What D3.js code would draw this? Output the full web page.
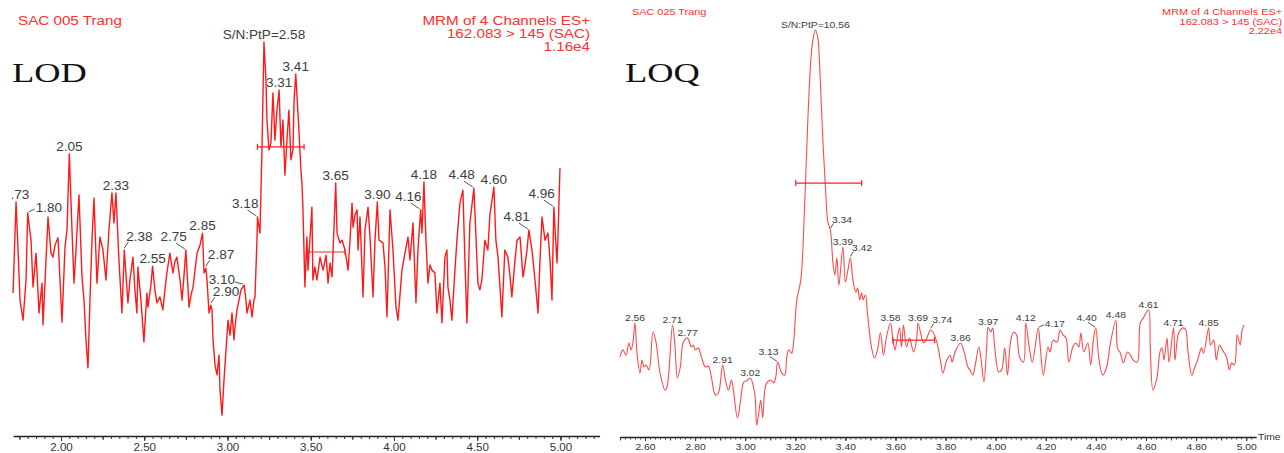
<!DOCTYPE html>
<html>
<head>
<meta charset="utf-8">
<script src="https://cdn.jsdelivr.net/npm/d3@7"></script>
<style>
  html, body { margin: 0; padding: 0; background: #fff; }
  svg { display: block; }
</style>
</head>
<body>
<div class="chart"></div>
<script>
// LOD chromatogram, [time (min), intensity (% of 1.16e4)]
const lodTrace = [
  [1.712, 36.3], [1.73, 59.4], [1.742, 47.2], [1.754, 34.5], [1.772, 29.4], [1.790, 39.6],
  [1.80, 56.6], [1.820, 49.7], [1.832, 37.8], [1.850, 46.4], [1.868, 31.2], [1.886, 38.8],
  [1.892, 28.2], [1.910, 44.7], [1.922, 55.6], [1.940, 46.4], [1.952, 45.4], [1.964, 48.5],
  [1.982, 50.3], [1.994, 39.6], [2.006, 28.9], [2.024, 48.0], [2.036, 52.3], [2.05, 71.6],
  [2.066, 52.3], [2.078, 38.8], [2.090, 47.2], [2.108, 61.2], [2.126, 40.4], [2.138, 34.5],
  [2.150, 24.4], [2.162, 17.3], [2.174, 34.5], [2.186, 49.7], [2.198, 60.4], [2.216, 38.8],
  [2.234, 50.5], [2.252, 47.2], [2.270, 39.6], [2.288, 52.3], [2.306, 61.7], [2.318, 54.1],
  [2.33, 61.7], [2.348, 44.7], [2.366, 31.2], [2.38, 47.2], [2.402, 33.8], [2.414, 39.6],
  [2.432, 45.4], [2.444, 37.1], [2.456, 31.2], [2.462, 42.9], [2.480, 34.5], [2.498, 23.9],
  [2.516, 36.3], [2.522, 32.7], [2.540, 38.3], [2.55, 43.1], [2.564, 37.1], [2.576, 33.8],
  [2.594, 35.3], [2.612, 32.0], [2.624, 37.1], [2.636, 41.4], [2.654, 46.4], [2.672, 41.4],
  [2.684, 44.2], [2.696, 45.4], [2.715, 39.6], [2.727, 34.5], [2.739, 40.9], [2.75, 47.2],
  [2.769, 32.7], [2.781, 35.8], [2.793, 37.8], [2.805, 42.1], [2.817, 46.4], [2.835, 48.5],
  [2.85, 51.5], [2.859, 41.4], [2.87, 42.6], [2.877, 39.6], [2.889, 31.2], [2.90, 33.2],
  [2.907, 32.0], [2.913, 24.4], [2.925, 18.0], [2.937, 15.5], [2.949, 20.6], [2.955, 11.7],
  [2.967, 5.3], [2.979, 14.2], [2.991, 21.8], [3.003, 29.4], [3.015, 25.6], [3.027, 31.2],
  [3.039, 24.4], [3.045, 27.7], [3.057, 32.0], [3.069, 34.5], [3.081, 37.1], [3.10, 38.3],
  [3.111, 34.5], [3.117, 31.2], [3.135, 34.5], [3.147, 30.2], [3.159, 34.5], [3.165, 35.3],
  [3.177, 49.7], [3.18, 55.6], [3.195, 51.5], [3.207, 72.6], [3.219, 100], [3.231, 90.4],
  [3.237, 80.2], [3.249, 72.6], [3.261, 74.4], [3.273, 87.1], [3.285, 75.1], [3.297, 82.7],
  [3.31, 87.8], [3.321, 73.4], [3.333, 80.2], [3.345, 66.2], [3.357, 75.1], [3.369, 82.7],
  [3.381, 70.1], [3.393, 72.6], [3.400, 85.3], [3.41, 91.9], [3.429, 77.7], [3.441, 67.5],
  [3.447, 64.2], [3.453, 58.1], [3.465, 37.8], [3.477, 50.5], [3.483, 42.1], [3.495, 49.7],
  [3.507, 58.1], [3.513, 39.6], [3.525, 42.9], [3.537, 39.6], [3.556, 45.4], [3.574, 42.1],
  [3.592, 45.9], [3.604, 38.8], [3.616, 43.9], [3.628, 40.4], [3.65, 64.2], [3.658, 51.5],
  [3.676, 49.0], [3.688, 49.7], [3.706, 47.2], [3.724, 42.1], [3.736, 49.7], [3.748, 59.1],
  [3.754, 53.0], [3.766, 56.1], [3.778, 57.4], [3.784, 47.2], [3.796, 55.6], [3.814, 35.3],
  [3.826, 52.3], [3.844, 58.1], [3.856, 50.5], [3.874, 35.3], [3.886, 49.7], [3.90, 59.4],
  [3.910, 49.7], [3.934, 49.0], [3.946, 42.9], [3.958, 30.2], [3.976, 57.4], [3.994, 47.2],
  [4.012, 32.7], [4.024, 29.4], [4.048, 42.1], [4.066, 46.4], [4.084, 50.5], [4.096, 44.7],
  [4.114, 54.1], [4.132, 33.8], [4.144, 47.2], [4.16, 57.4], [4.168, 51.5], [4.18, 64.5],
  [4.192, 49.7], [4.204, 38.8], [4.216, 43.4], [4.228, 42.1], [4.246, 41.4], [4.258, 31.2],
  [4.276, 38.8], [4.288, 28.7], [4.306, 45.4], [4.318, 47.2], [4.324, 37.8], [4.336, 34.5],
  [4.348, 29.4], [4.366, 42.1], [4.378, 49.7], [4.396, 59.1], [4.414, 62.4], [4.426, 44.7],
  [4.438, 28.7], [4.456, 54.1], [4.48, 62.9], [4.490, 53.0], [4.504, 38.8], [4.516, 37.1],
  [4.528, 39.6], [4.546, 49.7], [4.564, 47.2], [4.576, 56.1], [4.60, 63.2], [4.612, 49.7],
  [4.625, 45.4], [4.635, 38.8], [4.648, 30.2], [4.666, 47.2], [4.684, 45.4], [4.696, 40.9],
  [4.708, 35.3], [4.727, 44.7], [4.739, 49.7], [4.757, 50.5], [4.775, 40.4], [4.787, 43.4],
  [4.799, 47.2], [4.81, 52.3], [4.829, 47.2], [4.847, 39.6], [4.865, 31.2], [4.877, 44.7],
  [4.889, 55.6], [4.907, 49.7], [4.925, 51.5], [4.937, 44.7], [4.949, 34.5], [4.96, 58.1],
  [4.979, 43.9], [4.985, 50.5], [4.997, 68.0]
];

// LOQ chromatogram, [time (min), intensity (% of 2.22e4)]
const loqTrace = [
  [2.500, 19.7], [2.512, 21.4], [2.524, 20.1], [2.536, 23.1], [2.544, 21.4], [2.552, 23.3],
  [2.56, 28.0], [2.568, 20.6], [2.580, 15.7], [2.588, 18.9], [2.596, 17.2], [2.604, 17.7],
  [2.616, 16.5], [2.632, 25.8], [2.644, 23.3], [2.660, 15.7], [2.680, 11.5], [2.688, 12.3],
  [2.71, 27.5], [2.720, 22.1], [2.729, 14.5], [2.741, 17.2], [2.753, 23.3], [2.77, 24.3],
  [2.785, 22.1], [2.793, 22.6], [2.801, 21.4], [2.813, 21.9], [2.825, 19.7], [2.841, 17.2],
  [2.853, 17.4], [2.865, 14.7], [2.881, 10.3], [2.893, 10.8], [2.91, 17.7], [2.921, 14.0],
  [2.933, 11.5], [2.945, 14.0], [2.953, 11.5], [2.969, 4.7], [2.982, 9.1], [2.994, 13.5],
  [3.006, 13.8], [3.02, 14.5], [3.038, 10.8], [3.046, 2.9], [3.054, 5.9], [3.062, 9.1],
  [3.070, 4.7], [3.078, 11.5], [3.086, 13.3], [3.102, 14.0], [3.114, 13.3], [3.122, 14.7],
  [3.13, 18.4], [3.146, 15.7], [3.158, 15.2], [3.166, 19.7], [3.174, 21.4], [3.186, 20.6],
  [3.194, 23.8], [3.206, 33.7], [3.222, 38.6], [3.238, 58.2], [3.250, 77.9], [3.262, 92.6],
  [3.270, 97.5], [3.28, 100], [3.290, 98.0], [3.298, 90.2], [3.310, 73.0], [3.322, 59.5],
  [3.330, 52.8], [3.34, 50.9], [3.350, 43.0], [3.358, 39.8], [3.366, 44.0], [3.374, 37.3],
  [3.39, 46.7], [3.400, 38.1], [3.410, 41.0], [3.42, 44.0], [3.430, 38.6], [3.442, 35.6],
  [3.449, 36.6], [3.457, 33.7], [3.465, 35.4], [3.470, 33.7], [3.480, 34.9], [3.488, 30.5],
  [3.504, 22.1], [3.516, 19.4], [3.528, 21.4], [3.540, 25.6], [3.552, 20.1], [3.564, 24.6],
  [3.58, 28.0], [3.590, 23.8], [3.598, 21.4], [3.604, 23.1], [3.616, 26.8], [3.624, 22.1],
  [3.632, 27.5], [3.644, 22.1], [3.656, 24.3], [3.672, 20.9], [3.684, 23.8], [3.69, 28.0],
  [3.705, 24.3], [3.713, 23.1], [3.725, 24.3], [3.74, 26.3], [3.749, 25.8], [3.765, 23.3],
  [3.781, 18.2], [3.789, 15.7], [3.805, 18.9], [3.818, 20.1], [3.826, 18.4], [3.838, 20.9],
  [3.86, 23.1], [3.874, 20.9], [3.889, 17.2], [3.897, 16.5], [3.909, 15.2], [3.917, 17.2],
  [3.933, 22.1], [3.941, 19.4], [3.953, 13.5], [3.964, 22.1], [3.97, 27.0], [3.980, 25.8],
  [3.988, 26.8], [3.996, 22.1], [4.012, 16.0], [4.024, 16.5], [4.036, 21.9], [4.047, 15.2],
  [4.059, 23.3], [4.071, 25.8], [4.083, 25.1], [4.095, 19.7], [4.111, 18.4], [4.12, 28.0],
  [4.134, 22.1], [4.146, 18.4], [4.17, 26.8], [4.178, 22.1], [4.190, 15.2], [4.209, 22.1],
  [4.217, 20.9], [4.229, 23.8], [4.245, 23.3], [4.257, 26.3], [4.269, 25.1], [4.281, 24.3],
  [4.292, 18.4], [4.308, 22.1], [4.320, 23.1], [4.332, 22.1], [4.340, 25.6], [4.352, 20.9],
  [4.368, 23.1], [4.379, 17.7], [4.391, 24.3], [4.40, 26.8], [4.411, 19.7], [4.427, 15.2],
  [4.443, 17.2], [4.458, 23.1], [4.48, 28.7], [4.486, 21.9], [4.498, 20.6], [4.510, 18.2],
  [4.526, 20.9], [4.538, 20.1], [4.549, 18.9], [4.565, 18.4], [4.577, 28.0], [4.589, 29.2],
  [4.61, 31.2], [4.617, 22.1], [4.628, 11.5], [4.644, 14.7], [4.656, 20.9], [4.664, 21.9],
  [4.672, 18.9], [4.684, 24.3], [4.692, 18.4], [4.71, 26.8], [4.716, 18.9], [4.731, 25.6],
  [4.751, 26.8], [4.759, 26.3], [4.767, 21.4], [4.783, 15.2], [4.794, 17.0], [4.806, 18.9],
  [4.822, 21.9], [4.830, 20.6], [4.85, 26.8], [4.858, 22.6], [4.870, 23.8], [4.881, 18.9],
  [4.893, 22.6], [4.905, 21.4], [4.921, 19.7], [4.933, 16.5], [4.941, 18.2], [4.953, 17.7],
  [4.964, 25.1], [4.976, 22.6], [4.984, 26.3], [4.992, 27.5]
];

// labelled peak retention times
const lodPeakTimes = [1.73, 1.80, 2.05, 2.33, 2.38, 2.55, 2.75, 2.85, 2.87, 2.90, 3.10, 3.18,
  3.31, 3.41, 3.65, 3.90, 4.16, 4.18, 4.48, 4.60, 4.81, 4.96];
const loqPeakTimes = [2.56, 2.71, 2.77, 2.91, 3.02, 3.13, 3.34, 3.39, 3.42, 3.58, 3.69, 3.74,
  3.86, 3.97, 4.12, 4.17, 4.40, 4.48, 4.61, 4.71, 4.85];

// S/N peak-to-peak bars: [start, end, level %]
const lodNoiseBars = [[3.18, 3.46, 73.4], [3.484, 3.706, 46.7]];
const loqNoiseBars = [[3.202, 3.465, 62.4], [3.589, 3.756, 23.8]];

const lodTicks = [2.0, 2.5, 3.0, 3.5, 4.0, 4.5, 5.0];
const loqTicks = [2.6, 2.8, 3.0, 3.2, 3.4, 3.6, 3.8, 4.0, 4.2, 4.4, 4.6, 4.8, 5.0];

const lodHeader = ['MRM of 4 Channels ES+', '162.083 > 145 (SAC)', '1.16e4'];
const loqHeader = ['MRM of 4 Channels ES+', '162.083 > 145 (SAC)', '2.22e4'];

const sans = '"Liberation Sans", Arial, Helvetica, sans-serif';
const serif = '"Liberation Serif", "Times New Roman", serif';
const red = '#ff3030';
const grey = '#3c3c3c';

const svg = d3.select('.chart').append('svg')
  .attr('width', 1284)
  .attr('height', 453);

// text drawn slightly wider than its font, like the stretched screenshot
function stretchText(g, x, y, str, o) {
  return g.append('text')
    .attr('transform', `translate(${x},${y}) scale(${o.sx},1)`)
    .attr('text-anchor', o.anchor || 'start')
    .style('font-family', o.family || sans)
    .style('font-size', o.size + 'px')
    .style('fill', o.color || grey)
    .text(str);
}

// where each peak label sits relative to its peak
const placement = {
  lod: { '1.80': 'right', '2.38': 'upright', '2.75': 'upleft', '2.87': 'upright', '2.90': 'upright',
         '3.10': 'left', '3.18': 'upleft', '4.16': 'upleft', '4.48': 'upleft', '4.81': 'upleft', '4.96': 'upleft' },
  loq: { '3.13': 'upleft', '3.34': 'upright', '3.42': 'upright', '3.74': 'upright', '4.17': 'right', '4.40': 'upleft' }
};

function drawPanel(p) {
  const g = svg.append('g');
  const x = d3.scaleLinear().domain(p.domain).range(p.range);
  const y = d3.scaleLinear().domain([0, 100]).range([p.base, p.top]);

  g.append('clipPath').attr('id', p.id)
    .append('rect')
    .attr('x', p.clip[0]).attr('y', 0)
    .attr('width', p.clip[1] - p.clip[0]).attr('height', 453);
  const plot = g.append('g').attr('clip-path', `url(#${p.id})`);

  // axis: minor ticks, then labelled ticks
  const minor = g.append('g').attr('transform', `translate(0,${p.base})`)
    .call(d3.axisBottom(x).tickValues(p.minorTicks).tickSize(p.minorLen).tickSizeOuter(0).tickFormat(''));
  minor.select('.domain').attr('stroke', '#222').attr('stroke-width', 1.4);
  minor.selectAll('.tick line').attr('stroke', '#333');

  const mid = g.append('g').attr('transform', `translate(0,${p.base})`)
    .call(d3.axisBottom(x).tickValues(p.midTicks).tickSize(p.midLen).tickFormat(''));
  mid.select('.domain').remove();
  mid.selectAll('.tick line').attr('stroke', '#333');

  const major = g.append('g').attr('transform', `translate(0,${p.base})`)
    .call(d3.axisBottom(x).tickValues(p.ticks).tickSize(p.majorLen).tickPadding(p.tickPad)
      .tickFormat(d3.format('.2f')));
  major.select('.domain').remove();
  major.selectAll('.tick line').attr('stroke', '#333');
  major.selectAll('.tick text')
    .attr('transform', `scale(${p.axisSx},1)`)
    .style('font-family', sans)
    .style('font-size', p.axisSize + 'px')
    .style('fill', '#333');

  // trace
  plot.append('path')
    .datum(p.trace)
    .attr('d', d3.line().curve(p.curve).x(d => x(d[0])).y(d => y(d[1])))
    .attr('fill', 'none')
    .attr('stroke', p.lineColor)
    .attr('stroke-width', p.lineWidth)
    .attr('stroke-linejoin', 'round');

  // noise / S:N bars
  p.bars.forEach(b => {
    const bg = plot.append('g').attr('stroke', '#ff2020').attr('stroke-width', 1.2);
    bg.append('line').attr('x1', x(b[0])).attr('x2', x(b[1])).attr('y1', y(b[2])).attr('y2', y(b[2]));
    [b[0], b[1]].forEach(t => {
      bg.append('line').attr('x1', x(t)).attr('x2', x(t))
        .attr('y1', y(b[2]) - 3).attr('y2', y(b[2]) + 3);
    });
  });

  // peak labels
  const k = p.k;
  const lab = { size: p.labelSize, sx: p.labelSx, color: grey };
  p.peaks.forEach(t => {
    const pt = d3.least(p.trace, d => Math.abs(d[0] - t));
    const px = x(pt[0]), py = y(pt[1]);
    const txt = d3.format('.2f')(t);
    const mode = p.place[txt] || 'top';
    let leader = null;
    if (mode === 'top') {
      stretchText(plot, px, py - 3 * k, txt, { ...lab, anchor: 'middle' });
    } else if (mode === 'right') {
      stretchText(plot, px + 8 * k, py - 1 * k, txt, lab);
      leader = [px + 1 * k, py - 1 * k, px + 7 * k, py - 4 * k];
    } else if (mode === 'upright') {
      stretchText(plot, px + 2 * k, py - 9 * k, txt, lab);
      leader = [px, py - 2 * k, px + 4 * k, py - 8 * k];
    } else if (mode === 'left') {
      stretchText(plot, px - 9 * k, py - 1 * k, txt, { ...lab, anchor: 'end' });
      leader = [px - 9 * k, py - 3 * k, px - 1 * k, py - 1 * k];
    } else if (mode === 'upleft') {
      stretchText(plot, px + 1 * k, py - 9 * k, txt, { ...lab, anchor: 'end' });
      leader = [px - 10 * k, py - 7 * k, px - 1 * k, py - 1 * k];
    }
    if (leader) {
      plot.append('line')
        .attr('x1', leader[0]).attr('y1', leader[1])
        .attr('x2', leader[2]).attr('y2', leader[3])
        .attr('stroke', '#555').attr('stroke-width', 1);
    }
  });

  // S/N label on the main peak
  const apex = d3.greatest(p.trace, d => d[1]);
  stretchText(g, x(apex[0]), y(apex[1]) - 3 * k, p.snText,
    { size: p.labelSize, sx: p.labelSx, color: grey, anchor: 'middle' });

  // headers
  stretchText(g, p.sample[0], p.sample[1], p.sampleName,
    { size: p.headSize, sx: p.headSx, color: red });
  p.header.forEach((h, i) => {
    stretchText(g, p.headRight, p.headTop + i * p.headStep, h,
      { size: p.headSize, sx: p.headSx, color: red, anchor: 'end' });
  });
  stretchText(g, p.big[0], p.big[1], p.bigText,
    { size: 28, sx: 1.3, color: '#111', family: serif });

  return { x, y, g };
}

drawPanel({
  id: 'clipLod', trace: lodTrace, peaks: lodPeakTimes, bars: lodNoiseBars, place: placement.lod,
  domain: [1.712, 5.235], range: [13.05, 599.6], base: 436, top: 42, clip: [12, 603],
  ticks: lodTicks, midTicks: d3.range(1.75, 5.24, 0.25), minorTicks: d3.range(1.75, 5.24, 0.05),
  majorLen: 5, midLen: 4, minorLen: 3, tickPad: 2.2, axisSize: 11, axisSx: 1.05,
  lineColor: '#ff1a1a', lineWidth: 1.4, curve: d3.curveLinear, k: 1, labelSize: 12, labelSx: 1.13,
  snText: 'S/N:PtP=2.58', sampleName: 'SAC 005 Trang', sample: [18, 24.5],
  header: lodHeader, headRight: 590, headTop: 24.5, headStep: 13, headSize: 13, headSx: 1.17,
  big: [12, 82], bigText: 'LOD'
});

const loq = drawPanel({
  id: 'clipLoq', trace: loqTrace, peaks: loqPeakTimes, bars: loqNoiseBars, place: placement.loq,
  domain: [2.5, 5.04], range: [619.95, 1256.2], base: 437, top: 30, clip: [619, 1284],
  ticks: loqTicks, midTicks: d3.range(2.5, 5.04, 0.1), minorTicks: d3.range(2.5, 5.04, 0.02),
  majorLen: 4, midLen: 3.5, minorLen: 2.5, tickPad: 2.4, axisSize: 9, axisSx: 1.15,
  lineColor: '#ff4a4a', lineWidth: 1.1, curve: d3.curveCatmullRom.alpha(0.5), k: 0.8,
  labelSize: 9, labelSx: 1.15,
  snText: 'S/N:PtP=10.56', sampleName: 'SAC 025 Trang', sample: [632, 15],
  header: loqHeader, headRight: 1282, headTop: 15, headStep: 9.5, headSize: 9, headSx: 1.21,
  big: [625, 82], bigText: 'LOQ'
});

stretchText(loq.g, 1258, 440, 'Time', { size: 9, sx: 1.15, color: '#333' });
</script>
</body>
</html>
